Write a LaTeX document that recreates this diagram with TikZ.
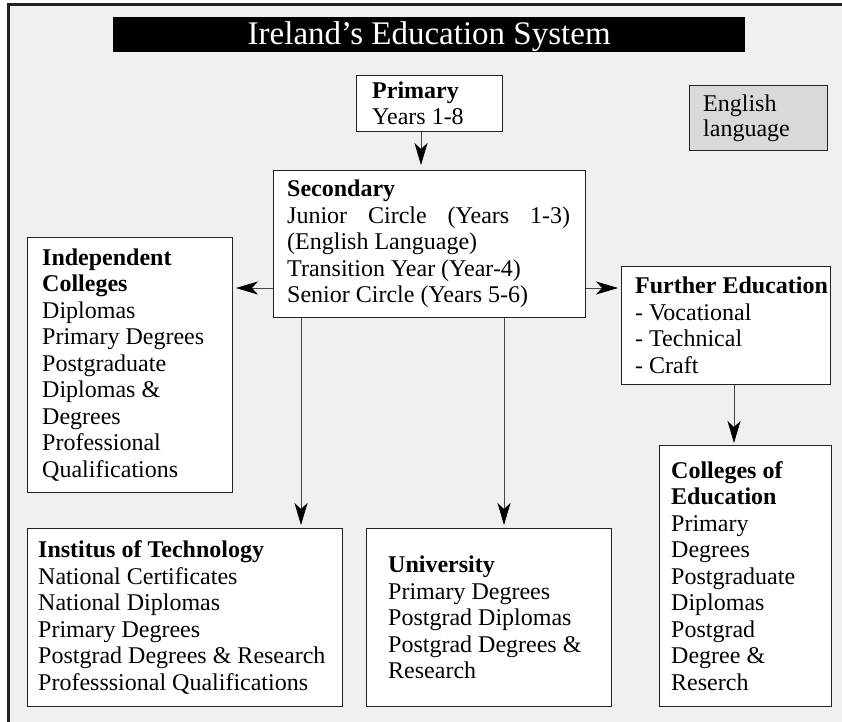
\documentclass[tikz,border=0pt]{standalone}
\usepackage{fontspec}
\setmainfont{Liberation Serif}
\usetikzlibrary{arrows.meta,shadows}
\definecolor{pagebg}{HTML}{F0F0F0}
\definecolor{notebg}{HTML}{D9D9D9}
\definecolor{edge}{HTML}{222222}
\definecolor{wire}{HTML}{444444}

\begin{document}
\begin{tikzpicture}[x=1pt,y=-1pt,
  panel/.style={draw=edge, line width=0.9pt, fill=white, inner sep=0pt,
    anchor=north west,
    drop shadow={shadow xshift=1pt, shadow yshift=-1pt, fill=black!45, opacity=1}},
  body/.style={inner sep=0pt, anchor=west, align=left,
    font=\fontsize{24pt}{26.5pt}\selectfont},
  arr/.style={draw=wire, line width=0.9pt,
    -{Stealth[length=22pt, width=13pt, inset=6pt, color=black]}}]

\useasboundingbox (0,0) rectangle (842,721);
\clip (0,0) rectangle (842,721);
\fill[white] (0,0) rectangle (842,721);
% page frame, running off the right and bottom edges
\path[fill=pagebg, draw=edge, line width=2.8pt] (8.5,4.5) rectangle (870,750);

% title bar
\node[fill=black, text=white, minimum width=632pt, minimum height=35pt,
  inner sep=0pt, text height=22.5pt, text depth=2.5pt,
  font=\fontsize{33pt}{36pt}\selectfont, anchor=north west]
  (title) at (113,17) {Ireland’s Education System};

% boxes
\node[panel, minimum width=146pt, minimum height=56pt] (prim) at (356,75) {};
\node[body] (primT) at ([xshift=16pt]prim.west) {\textbf{Primary}\\Years 1-8};

\node[panel, fill=notebg, minimum width=138pt, minimum height=65pt] (eng) at (689,85) {};
\node[body, font=\fontsize{24pt}{25pt}\selectfont] (engT) at ([xshift=14pt]eng.west) {English\\language};

\node[panel, minimum width=312pt, minimum height=147pt] (sec) at (273,170) {};
\node[body] (secT) at ([xshift=14pt]sec.west)
  {\textbf{Secondary}\\\makebox[283pt][s]{Junior Circle (Years 1-3)}\\(English Language)\\Transition Year (Year-4)\\Senior Circle (Years 5-6)};

\node[panel, minimum width=205pt, minimum height=255pt] (ind) at (27,237) {};
\node[body] (indT) at ([xshift=15pt]ind.west)
  {\textbf{Independent}\\\textbf{Colleges}\\Diplomas\\Primary Degrees\\Postgraduate\\Diplomas \&\\Degrees\\Professional\\Qualifications};

\node[panel, minimum width=209pt, minimum height=118pt] (fe) at (621,266) {};
\node[body] (feT) at ([xshift=14pt]fe.west)
  {\textbf{Further Education}\\- Vocational\\- Technical\\- Craft};

\node[panel, minimum width=172pt, minimum height=261pt] (col) at (659,445) {};
\node[body] (colT) at ([xshift=12pt]col.west)
  {\textbf{Colleges of}\\\textbf{Education}\\Primary\\Degrees\\Postgraduate\\Diplomas\\Postgrad\\Degree \&\\Reserch};

\node[panel, minimum width=315pt, minimum height=178pt] (inst) at (27,528) {};
\node[body] (instT) at ([xshift=11pt]inst.west)
  {\textbf{Institus of Technology}\\National Certificates\\National Diplomas\\Primary Degrees\\Postgrad Degrees \& Research\\Professsional Qualifications};

\node[panel, minimum width=245pt, minimum height=178pt] (uni) at (366,528) {};
\node[body] (uniT) at ([xshift=22pt]uni.west)
  {\textbf{University}\\Primary Degrees\\Postgrad Diplomas\\Postgrad Degrees \&\\Research};

% connectors
\coordinate (pa) at ([xshift=65pt]prim.south west);
\draw[arr, shorten >=5pt] (pa) -- (pa |- sec.north);

\coordinate (sl) at ([yshift=-118pt]sec.north west);
\draw[arr, shorten >=3pt] (sl) -- (sl -| ind.east);
\coordinate (sr) at ([yshift=-118pt]sec.north east);
\draw[arr, shorten >=3pt] (sr) -- (sr -| fe.west);

\coordinate (sd1) at ([xshift=28pt]sec.south west);
\draw[arr, shorten >=3pt] (sd1) -- (sd1 |- inst.north);
\coordinate (sd2) at ([xshift=231pt]sec.south west);
\draw[arr, shorten >=3pt] (sd2) -- (sd2 |- uni.north);

\coordinate (fd) at ([xshift=113pt]fe.south west);
\draw[arr, shorten >=2pt] (fd) -- (fd |- col.north);
\end{tikzpicture}
\end{document}
